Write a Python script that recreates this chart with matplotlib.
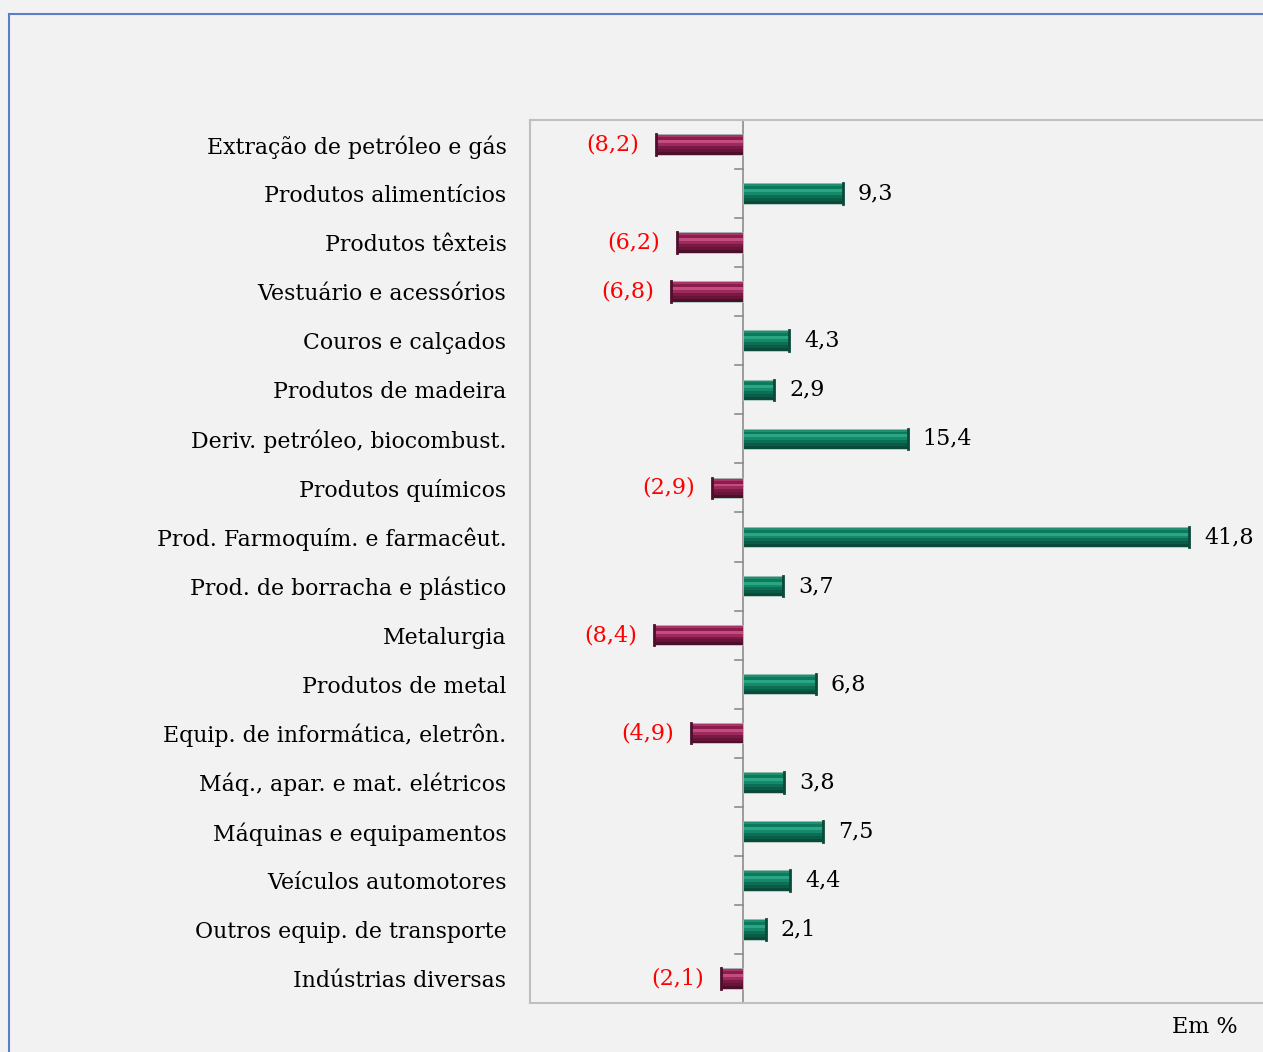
import matplotlib
matplotlib.use("Agg")
import matplotlib.pyplot as plt
from matplotlib.patches import Rectangle

# Data
categories = [
    "Extração de petróleo e gás", "Produtos alimentícios", "Produtos têxteis",
    "Vestuário e acessórios", "Couros e calçados", "Produtos de madeira",
    "Deriv. petróleo, biocombust.", "Produtos químicos",
    "Prod. Farmoquím. e farmacêut.", "Prod. de borracha e plástico",
    "Metalurgia", "Produtos de metal", "Equip. de informática, eletrôn.",
    "Máq., apar. e mat. elétricos", "Máquinas e equipamentos",
    "Veículos automotores", "Outros equip. de transporte", "Indústrias diversas",
]
values = [-8.2, 9.3, -6.2, -6.8, 4.3, 2.9, 15.4, -2.9, 41.8, 3.7,
          -8.4, 6.8, -4.9, 3.8, 7.5, 4.4, 2.1, -2.1]

plt.rcParams['font.family'] = ['DejaVu Serif']
bg = '#f2f2f2'

# shading stripes, top to bottom, to fake the bevelled bars
pos_shades = ['#1f8f70', '#0b7a5e', '#2aa683', '#158a6b', '#0b6e55', '#0b5c47', '#0a4a3a']
neg_shades = ['#a8346a', '#8c1c4c', '#c24d7e', '#9c2a5c', '#7a1a44', '#661538', '#4e0f2c']

fig = plt.figure(figsize=(12.63, 10.52), dpi=100, facecolor=bg)

# outer blue frame (runs off the right/bottom edge)
fig.patches.append(Rectangle((9 / 1263, -0.1), 1.2, (1052 - 14) / 1052 + 0.1,
                             transform=fig.transFigure, fill=False,
                             edgecolor='#5b7fc7', linewidth=1.5))

ax = fig.add_axes([530 / 1263, 49 / 1052, 747 / 1263, 883 / 1052])
ax.set_facecolor(bg)
ax.set_xlim(-20, 50)
ax.set_ylim(len(categories) - 0.5, -0.5)

h = 0.42
n = len(pos_shades)
for i, v in enumerate(values):
    shades = pos_shades if v >= 0 else neg_shades
    for k, c in enumerate(shades):
        y0 = i - h / 2 + h * (k + 0.5) / n
        ax.barh(y0, v, height=h / n, color=c, linewidth=0, zorder=3)
    ax.barh(i, v, height=h, fill=False, edgecolor='#a9c4bb', linewidth=0.6, zorder=4)
    ax.plot([v, v], [i - h / 2, i + h / 2], color=shades[-1], lw=2, zorder=5)
    txt = f"{abs(v):.1f}".replace('.', ',')
    if v < 0:
        ax.text(v - 1.6, i, f"({txt})", color='#ff0000', fontsize=16,
                ha='right', va='center')
    else:
        ax.text(v + 1.4, i, txt, color='black', fontsize=16,
                ha='left', va='center')

# zero axis with small ticks at the category boundaries
ax.axvline(0, color='#8c8c8c', lw=1.2, zorder=2)
for b in range(len(categories) + 1):
    ax.plot([-0.8, 0], [b - 0.5, b - 0.5], color='#8c8c8c', lw=1.2, zorder=2)

ax.set_yticks(range(len(categories)))
ax.set_yticklabels(categories, fontsize=15.8)
ax.tick_params(axis='y', length=0, pad=17)
ax.set_xticks([])
for s in ax.spines.values():
    s.set_color('#bfbfbf')
    s.set_linewidth(1.5)

fig.text(1238 / 1263, 1 - 1027 / 1052, "Em %", fontsize=16, ha='right', va='center')

fig.savefig("out.png", dpi=100, facecolor=bg)
